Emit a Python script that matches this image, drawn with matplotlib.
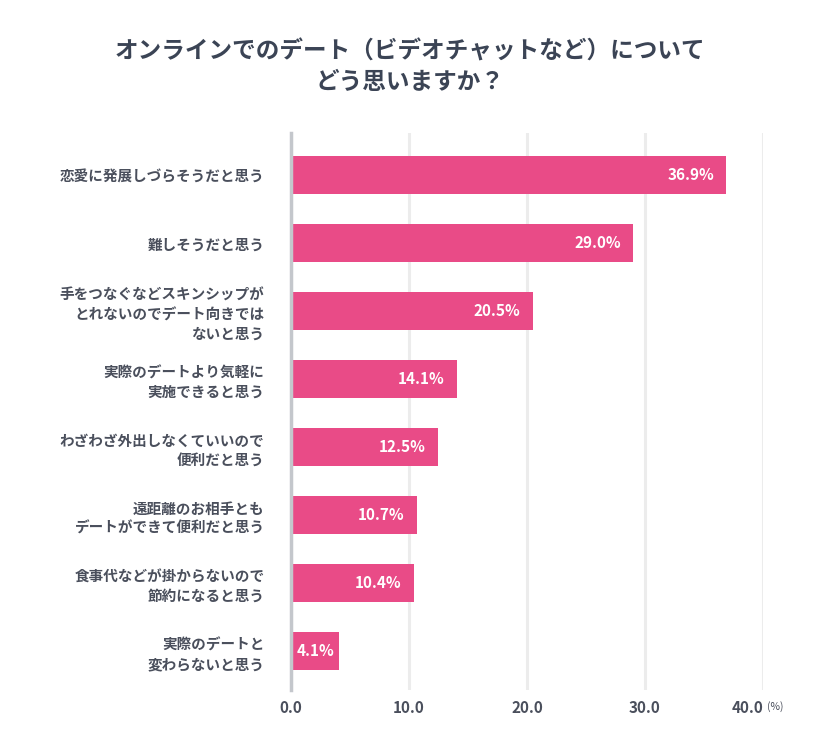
import matplotlib
matplotlib.use("Agg")
import matplotlib.pyplot as plt

plt.rcParams['font.family'] = ['Noto Sans CJK JP', 'DejaVu Sans']

categories = [
    "恋愛に発展しづらそうだと思う",
    "難しそうだと思う",
    "手をつなぐなどスキンシップが\nとれないのでデート向きでは\nないと思う",
    "実際のデートより気軽に\n実施できると思う",
    "わざわざ外出しなくていいので\n便利だと思う",
    "遠距離のお相手とも\nデートができて便利だと思う",
    "食事代などが掛からないので\n節約になると思う",
    "実際のデートと\n変わらないと思う",
]
values = [36.9, 29.0, 20.5, 14.1, 12.5, 10.7, 10.4, 4.1]
xticks = [0, 10, 20, 30, 40]
xticklabels = ["0.0", "10.0", "20.0", "30.0", "40.0"]
title = "オンラインでのデート（ビデオチャットなど）について\nどう思いますか？"

BAR = "#E94B87"
TXT = "#4a4f5c"
TITLE = "#3b4455"

W, H = 820, 731
fig = plt.figure(figsize=(W/100, H/100), dpi=100)
ax = fig.add_axes([291/W, 1-690/H, (763-291)/W, (690-133)/H])

ypos = list(range(len(categories)))
ax.barh(ypos, values, height=0.56, color=BAR, zorder=3)
ax.set_ylim(len(categories)-1+0.57, -0.62)
ax.set_xlim(0, 40)

ax.set_xticks(xticks)
ax.set_xticklabels(xticklabels, fontsize=11, color=TXT, fontweight='bold')
lbls = ax.get_xticklabels()
lbls[-1].set_horizontalalignment('right')
ax.set_yticks(ypos)
ax.set_yticklabels(categories, fontsize=10.5, color=TXT, fontweight='bold', linespacing=1.25)
ax.tick_params(axis='both', length=0)
ax.tick_params(axis='y', pad=19)
ax.tick_params(axis='x', pad=7)

ax.grid(axis='x', color="#ececec", linewidth=2.2, zorder=0)
ax.set_axisbelow(True)
for s in ['top', 'right', 'bottom']:
    ax.spines[s].set_visible(False)
ax.spines['left'].set_color("#c4c7cc")
ax.spines['left'].set_linewidth(2.5)
ax.spines['left'].set_zorder(4)

for y, v in zip(ypos, values):
    lab = f"{v:.1f}%"
    if v < 6:
        ax.text(v/2, y, lab, ha='center', va='center', color='white',
                fontsize=11, fontweight='bold', zorder=5)
    else:
        ax.annotate(lab, (v, y), xytext=(-9, 0), textcoords='offset points',
                    ha='right', va='center', color='white',
                    fontsize=11, fontweight='bold', zorder=5)

fig.text(767/W, 1-707/H, "(%)", fontsize=7.5, color=TXT, ha='left', va='center')

fig.text(0.5, 1-67/H, title, ha='center', va='center', fontsize=17,
         fontweight='bold', color=TITLE, linespacing=1.35)

fig.savefig("out.png", dpi=100, facecolor='white')
